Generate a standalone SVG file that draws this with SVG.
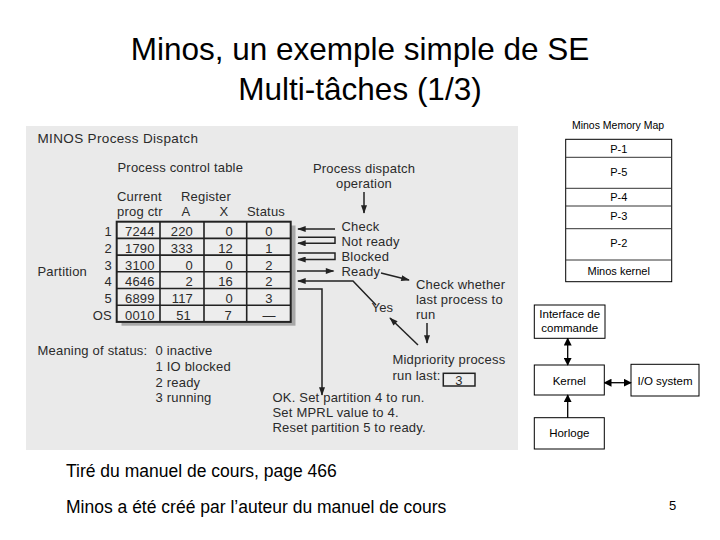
<svg xmlns="http://www.w3.org/2000/svg" width="720" height="540" viewBox="0 0 720 540">
<defs>
<style>
.title{font-family:"Liberation Sans",Arial,sans-serif;font-size:31.5px;fill:#000;text-anchor:middle}
.scan{font-family:"Liberation Sans",Arial,sans-serif;font-size:13px;letter-spacing:0.2px;fill:#2b2b2b}
.head{font-family:"Liberation Sans",Arial,sans-serif;font-size:13.5px;letter-spacing:0.35px;fill:#2b2b2b}
.r{text-anchor:end}
.m{text-anchor:middle}
.grid{fill:none;stroke:#222;stroke-width:1.6}
.box{fill:#fff;stroke:#000;stroke-width:1}
.lbl{font-family:"Liberation Sans",Arial,sans-serif;font-size:11.5px;fill:#000;text-anchor:middle}
.mm{font-family:"Liberation Sans",Arial,sans-serif;font-size:11px;fill:#000;text-anchor:middle}
.cap{font-family:"Liberation Sans",Arial,sans-serif;font-size:17.5px;fill:#000}
.conn{fill:none;stroke:#222;stroke-width:1.5}
.conn2{fill:none;stroke:#000;stroke-width:1.3}
</style>
<marker id="ah" viewBox="0 0 10 7" refX="9" refY="3.5" markerWidth="10" markerHeight="6" markerUnits="userSpaceOnUse" orient="auto"><path d="M0,0 L10,3.5 L0,7 z" fill="#222"/></marker>
<marker id="ah2" viewBox="0 0 10 10" refX="9" refY="5" markerWidth="8" markerHeight="8" markerUnits="userSpaceOnUse" orient="auto-start-reverse"><path d="M0,0 L10,5 L0,10 z" fill="#000"/></marker>
</defs>
<rect x="0" y="0" width="720" height="540" fill="#fff"/>

<g id="title">
<text class="title" x="360" y="60">Minos, un exemple simple de SE</text>
<text class="title" x="360" y="100">Multi-tâches (1/3)</text>
</g>

<g id="scan">
<rect x="26" y="126" width="492" height="324" fill="#eaeaea"/>
<text class="head" x="37.5" y="143">MINOS Process Dispatch</text>
<text class="scan" x="117.5" y="171.5">Process control table</text>
<text class="scan m" x="364" y="173">Process dispatch</text>
<text class="scan m" x="364" y="188">operation</text>
<text class="scan" x="117" y="201">Current</text>
<text class="scan" x="181" y="201">Register</text>
<text class="scan" x="117" y="216">prog ctr</text>
<text class="scan m" x="186" y="216">A</text>
<text class="scan m" x="224" y="216">X</text>
<text class="scan" x="247" y="216">Status</text>
<text class="scan" x="37.5" y="275.5">Partition</text>
</g>

<g id="table">
<rect x="121.5" y="225.5" width="174" height="100.2" fill="#a8a8a8"/>
<rect x="116.7" y="221.7" width="174" height="100.2" fill="#ededed" stroke="#222" stroke-width="2"/>
<path class="grid" d="M160,221.7V321.9M204,221.7V321.9M246.7,221.7V321.9M116.7,238.4H290.7M116.7,255.1H290.7M116.7,271.8H290.7M116.7,288.5H290.7M116.7,305.2H290.7"/>
<g class="scan r">
<text x="112" y="236.2">1</text><text x="112" y="252.9">2</text><text x="112" y="269.6">3</text><text x="112" y="286.3">4</text><text x="112" y="303">5</text><text x="112" y="319.7">OS</text>
</g>
<g class="scan">
<text x="125" y="236.2">7244</text><text x="125" y="252.9">1790</text><text x="125" y="269.6">3100</text><text x="125" y="286.3">4646</text><text x="125" y="303">6899</text><text x="125" y="319.7">0010</text>
</g>
<g class="scan r">
<text x="193" y="236.2">220</text><text x="193" y="252.9">333</text><text x="193" y="269.6">0</text><text x="193" y="286.3">2</text><text x="193" y="303">117</text><text x="191" y="319.7">51</text>
<text x="233" y="236.2">0</text><text x="233" y="252.9">12</text><text x="233" y="269.6">0</text><text x="233" y="286.3">16</text><text x="233" y="303">0</text><text x="232" y="319.7">7</text>
</g>
<g class="scan m">
<text x="269" y="236.2">0</text><text x="269" y="252.9">1</text><text x="269" y="269.6">2</text><text x="269" y="286.3">2</text><text x="269" y="303">3</text><text x="269" y="319.7">—</text>
</g>
</g>

<g id="status-legend">
<text class="scan" x="37.5" y="355">Meaning of status:</text>
<text class="scan" x="155.5" y="355">0 inactive</text>
<text class="scan" x="155.5" y="371">1 IO blocked</text>
<text class="scan" x="155.5" y="386.5">2 ready</text>
<text class="scan" x="155.5" y="401.5">3 running</text>
</g>

<g id="dispatch-labels">
<text class="scan" x="341.5" y="231">Check</text>
<text class="scan" x="341.5" y="246">Not ready</text>
<text class="scan" x="341.5" y="261">Blocked</text>
<text class="scan" x="341.5" y="275.5">Ready</text>
<text class="scan" x="416" y="289">Check whether</text>
<text class="scan" x="416" y="303.5">last process to</text>
<text class="scan" x="416" y="318.5">run</text>
<text class="scan" x="371.5" y="312">Yes</text>
<text class="scan" x="392.5" y="364">Midpriority process</text>
<text class="scan" x="392.5" y="379.5">run last:</text>
<rect x="443.3" y="373.3" width="31.7" height="12.7" fill="#ededed" stroke="#222" stroke-width="1.5"/>
<text class="scan m" x="459" y="384.5">3</text>
<text class="scan" x="272.5" y="401.5">OK. Set partition 4 to run.</text>
<text class="scan" x="272.5" y="416.5">Set MPRL value to 4.</text>
<text class="scan" x="272.5" y="431.5">Reset partition 5 to ready.</text>
</g>

<g id="memory-map">
<text class="mm" x="618" y="128.5" style="font-size:10.5px">Minos Memory Map</text>
<rect class="box" x="565.7" y="139.3" width="106" height="142.4" stroke="#333"/>
<path d="M565.7,157.3H671.7M565.7,188.3H671.7M565.7,206H671.7M565.7,228.7H671.7M565.7,260H671.7" stroke="#333" stroke-width="1" fill="none"/>
<text class="mm" x="618.7" y="152.5">P-1</text>
<text class="mm" x="618.7" y="176">P-5</text>
<text class="mm" x="618.7" y="201">P-4</text>
<text class="mm" x="618.7" y="220">P-3</text>
<text class="mm" x="618.7" y="247">P-2</text>
<text class="mm" x="618.7" y="274.5">Minos kernel</text>
</g>

<g id="interface">
<rect class="box" x="534.3" y="305" width="70.7" height="33.3"/>
<text class="lbl" x="569.7" y="318">Interface de</text>
<text class="lbl" x="569.7" y="332">commande</text>
</g>
<g id="kernel">
<rect class="box" x="534.3" y="365" width="70" height="30"/>
<text class="lbl" x="569.3" y="384.5">Kernel</text>
</g>
<g id="io-system">
<rect class="box" x="631" y="364.3" width="68" height="31.7"/>
<text class="lbl" x="665" y="384.5">I/O system</text>
</g>
<g id="horloge">
<rect class="box" x="534.3" y="417.7" width="70" height="31.3"/>
<text class="lbl" x="569.3" y="437">Horloge</text>
</g>

<g id="connectors">
<path class="conn" d="M364,192V213" marker-end="url(#ah)"/>
<path class="conn" d="M335,229H298" marker-end="url(#ah)"/>
<path class="conn" d="M298,237.3H335V243.3H298" marker-end="url(#ah)"/>
<path class="conn" d="M298,253H335V259.5H298" marker-end="url(#ah)"/>
<path class="conn" d="M297,271H333.5" marker-end="url(#ah)"/>
<path class="conn" d="M381,273L409,280" marker-end="url(#ah)"/>
<path class="conn" d="M376,305L353,281H298" marker-end="url(#ah)"/>
<path class="conn" d="M298,289H322V395" marker-end="url(#ah)"/>
<path class="conn" d="M427,323V343" marker-end="url(#ah)"/>
<path class="conn" d="M418,345L390,318" marker-end="url(#ah)"/>
<path class="conn2" d="M567.7,338.3V365" marker-start="url(#ah2)" marker-end="url(#ah2)"/>
<path class="conn2" d="M604.3,382.7H631" marker-start="url(#ah2)" marker-end="url(#ah2)"/>
<path class="conn2" d="M567.7,417.7V395" marker-end="url(#ah2)"/>
</g>

<g id="footer">
<text class="cap" x="66" y="477">Tiré du manuel de cours, page 466</text>
<text class="cap" x="66" y="512.5">Minos a été créé par l’auteur du manuel de cours</text>
<text class="cap" x="669" y="510" style="font-size:13px">5</text>
</g>
</svg>
